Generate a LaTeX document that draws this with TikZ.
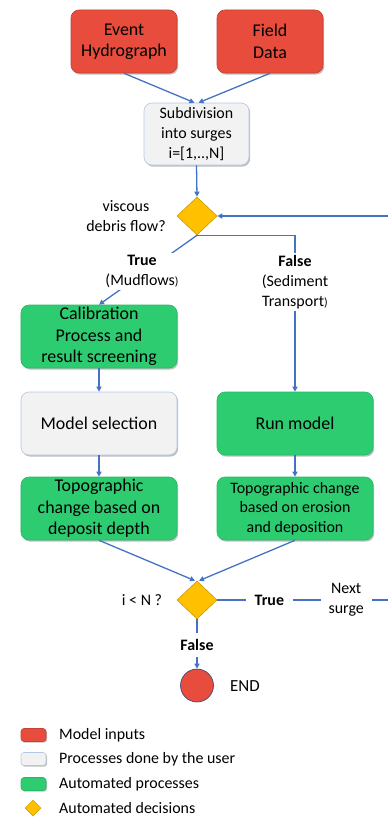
\documentclass[tikz,border=0pt]{standalone}
\usepackage{fontspec}
\setmainfont{Carlito}
\usetikzlibrary{shapes.geometric,arrows.meta,shadows}
\definecolor{inred}{HTML}{E74C3C}
\definecolor{userfill}{HTML}{F2F2F2}
\definecolor{userdraw}{HTML}{B4C7E7}
\definecolor{autogreen}{HTML}{2ECC71}
\definecolor{gold}{HTML}{FFC000}
\definecolor{golddraw}{HTML}{C99A00}
\definecolor{lineblue}{HTML}{4472C4}
\begin{document}
\begin{tikzpicture}[x=1bp,y=-1bp,
  box/.style={rounded corners=8bp, minimum width=156bp, minimum height=63bp, inner sep=2bp,
    align=center, font=\fontsize{18}{21.5}\selectfont, line width=0.6bp,
    drop shadow={shadow xshift=1.2bp, shadow yshift=-1.6bp, opacity=0.25, fill=black}},
  inputbox/.style={fill=inred, draw=inred!85!black},
  userbox/.style={fill=userfill, draw=userdraw},
  autobox/.style={fill=autogreen, draw=autogreen!90!black},
  decision/.style={diamond, fill=gold, draw=golddraw, line width=0.6bp, minimum width=40bp, minimum height=38bp, inner sep=0pt},
  conn/.style={draw=lineblue, line width=1.3bp, -{Triangle[length=5bp,width=5bp]}},
  plain/.style={draw=lineblue, line width=1.3bp},
  lbl/.style={fill=white, align=center, font=\fontsize{16}{20}\selectfont, inner xsep=4bp, inner ysep=2bp},
  txt/.style={align=center, font=\fontsize{16}{20}\selectfont, inner sep=0pt},
  legbox/.style={rounded corners=3bp, minimum width=25bp, minimum height=13bp, inner sep=0pt, line width=0.6bp,
    drop shadow={shadow xshift=1bp, shadow yshift=-1.2bp, opacity=0.25, fill=black}},
  legtxt/.style={anchor=west, font=\fontsize{16}{20}\selectfont, inner sep=0pt}
]
\useasboundingbox (0,0) rectangle (388,818);

% nodes
\node[box,inputbox,minimum width=106bp] (ev) at (124,41.5) {Event\\Hydrograph};
\node[box,inputbox,minimum width=106bp] (fd) at (270,41.5) {Field\\Data};
\node[box,userbox,minimum width=105bp,minimum height=62bp,font=\fontsize{16}{20}\selectfont] (sub) at (196.5,134) {Subdivision\\into surges\\i=[1,..,N]};
\node[decision] (d1) at (197,216) {};
\node[txt] (q1) at (126,216) {viscous\\debris flow?};
\node[box,autobox] (cal) at (99,336.5) {Calibration\\Process and\\result screening};
\node[box,userbox] (mod) at (99,423.5) {Model selection};
\node[box,autobox] (run) at (295,423.5) {Run model};
\node[box,autobox] (topl) at (99,508.5) {Topographic\\change based on\\deposit depth};
\node[box,autobox,font=\fontsize{16}{19.5}\selectfont] (topr) at (295,508.5) {Topographic change\\based on erosion\\and deposition};
\node[decision] (d2) at (197,600) {};
\node[txt] (q2) at (142,600) {i < N ?};
\node[circle, fill=inred, draw=lineblue!60!black, line width=0.6bp, minimum size=33bp, inner sep=0pt] (end) at (197,685.5) {};
\node[txt,font=\fontsize{17}{20}\selectfont] (endl) at (245,686) {END};
\coordinate (ne) at (388,216);
\coordinate (se) at (388,600);

% connectors
\draw[conn] (ev.south) -- ([xshift=-2bp]sub.north);
\draw[conn] (fd.south) -- ([xshift=2bp]sub.north);
\draw[conn] (sub.south) -- (d1.north);
\draw[conn] (ne) -- (d1.east);
\draw[conn] (d1.south) -- node[lbl, pos=0.52, xshift=-4bp] (tl) {\textbf{True}\\(Mudflows{\fontsize{12}{14}\selectfont)}} (cal.north);
\draw[conn] (d1.south) -| node[lbl, pos=0.65] (fl) {\textbf{False}\\(Sediment\\Transport{\fontsize{12}{14}\selectfont)}} (run.north);
\draw[conn] (cal.south) -- (mod.north);
\draw[conn] (mod.south) -- (topl.north);
\draw[conn] (run.south) -- (topr.north);
\draw[conn] (topl.south) -- ([xshift=-2bp]d2.north);
\draw[conn] (topr.south) -- ([xshift=2bp]d2.north);
\draw[plain] (d2.east) -- node[lbl, pos=0.305, inner xsep=9bp] (tr) {\textbf{True}} node[lbl, pos=0.755, inner xsep=8bp] (ns) {Next\\surge} (se);
\draw[conn] (d2.south) -- node[lbl, pos=0.52, inner ysep=6bp] (fr) {\textbf{False}} (end.north);

% legend
\node[legbox, fill=inred, draw=inred!85!black] (l1) at (33.5,735) {};
\node[legtxt] (t1) at (59,735) {Model inputs};
\node[legbox, fill=userfill, draw=userdraw] (l2) at (33.5,759) {};
\node[legtxt] (t2) at (59,759) {Processes done by the user};
\node[legbox, fill=autogreen, draw=autogreen!90!black] (l3) at (33.5,784) {};
\node[legtxt] (t3) at (59,784) {Automated processes};
\node[diamond, fill=gold, draw=golddraw, line width=0.5bp, minimum width=16bp, minimum height=16bp, inner sep=0pt] (l4) at (33,808) {};
\node[legtxt] (t4) at (59,808) {Automated decisions};
\end{tikzpicture}
\end{document}
